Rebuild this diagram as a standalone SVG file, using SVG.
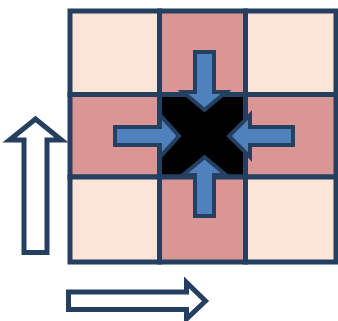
<svg xmlns="http://www.w3.org/2000/svg" width="338" height="321" viewBox="0 0 338 321">
<style>
.cell{stroke:#243F60;stroke-width:5}
.light{fill:#FBE5D6}
.pink{fill:#D99694}
.center{fill:#000000}
.blue{fill:#4F81BD;stroke:#243F60;stroke-width:4;stroke-linejoin:miter}
.out{fill:#FFFFFF;stroke:#243F60;stroke-width:5;stroke-linejoin:miter}
</style>
<rect width="338" height="321" fill="#FFFFFF"/>
<g id="grid">
<rect id="c00" class="cell light" x="70" y="11" width="89.5" height="83.5"/>
<rect id="c01" class="cell pink" x="159.5" y="11" width="86" height="83.5"/>
<rect id="c02" class="cell light" x="245.5" y="11" width="90.5" height="83.5"/>
<rect id="c10" class="cell pink" x="70" y="94.5" width="89.5" height="82.5"/>
<rect id="c11" class="cell center" x="159.5" y="94.5" width="86" height="82.5"/>
<rect id="c12" class="cell pink" x="245.5" y="94.5" width="90.5" height="82.5"/>
<rect id="c20" class="cell light" x="70" y="177" width="89.5" height="85"/>
<rect id="c21" class="cell pink" x="159.5" y="177" width="86" height="85"/>
<rect id="c22" class="cell light" x="245.5" y="177" width="90.5" height="85"/>
</g>
<g id="connectors">
<polygon id="a-top" class="blue" points="195,52 214,52 214,92 226,92 204.5,110 183,92 195,92"/>
<polygon id="a-bottom" class="blue" points="195,216 214,216 214,175 226,175 204.5,157 183,175 195,175"/>
<polygon id="a-left" class="blue" points="115,127 160,127 160,115 179,136 160,157 160,145 115,145"/>
<polygon id="a-right" class="blue" points="293,127 250,127 250,115 229,136 250,157 250,145 293,145"/>
<polygon id="a-up" class="out" points="24,252.5 47,252.5 47,140 61.5,140 35.5,119 9.5,140 24,140"/>
<polygon id="a-rightout" class="out" points="68.5,292 186.5,292 186.5,282.5 205.5,301 186.5,319 186.5,309.5 68.5,309.5"/>
</g>
</svg>
